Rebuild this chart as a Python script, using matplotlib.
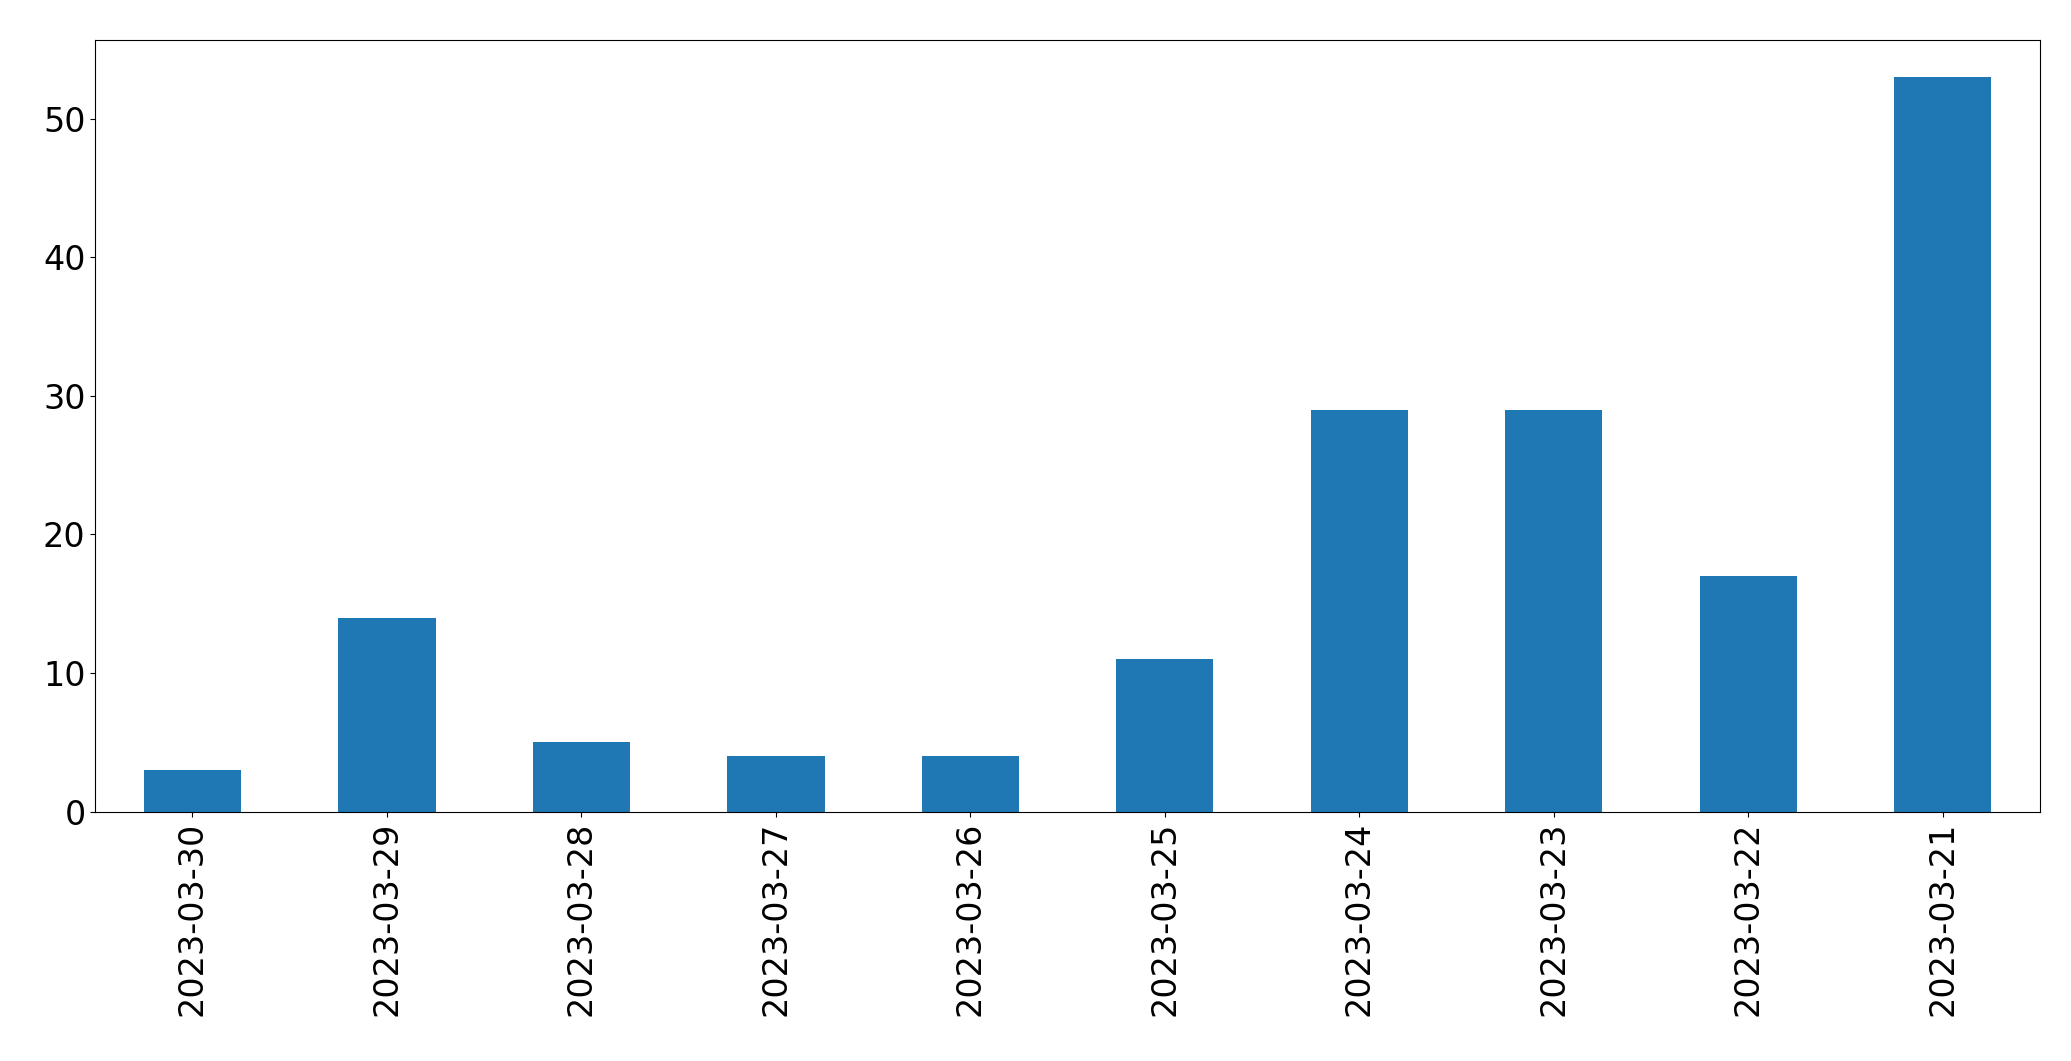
import matplotlib
matplotlib.use("Agg")
import matplotlib.pyplot as plt

dates = ["2023-03-30", "2023-03-29", "2023-03-28", "2023-03-27", "2023-03-26",
         "2023-03-25", "2023-03-24", "2023-03-23", "2023-03-22", "2023-03-21"]
counts = [3, 14, 5, 4, 4, 11, 29, 29, 17, 53]

fig = plt.figure(figsize=(20.71, 10.61), dpi=100)
ax = fig.add_axes([0.046, 0.235, 0.939, 0.727])
x = range(len(dates))
ax.bar(x, counts, width=0.5, color="#1f77b4")
ax.set_xlim(-0.5, len(dates) - 0.5)
ax.set_ylim(0, max(counts) * 1.05)
ax.set_xticks(list(x))
ax.set_xticklabels(dates, rotation=90)
ax.tick_params(labelsize=24)
fig.savefig("out.png", dpi=100)
